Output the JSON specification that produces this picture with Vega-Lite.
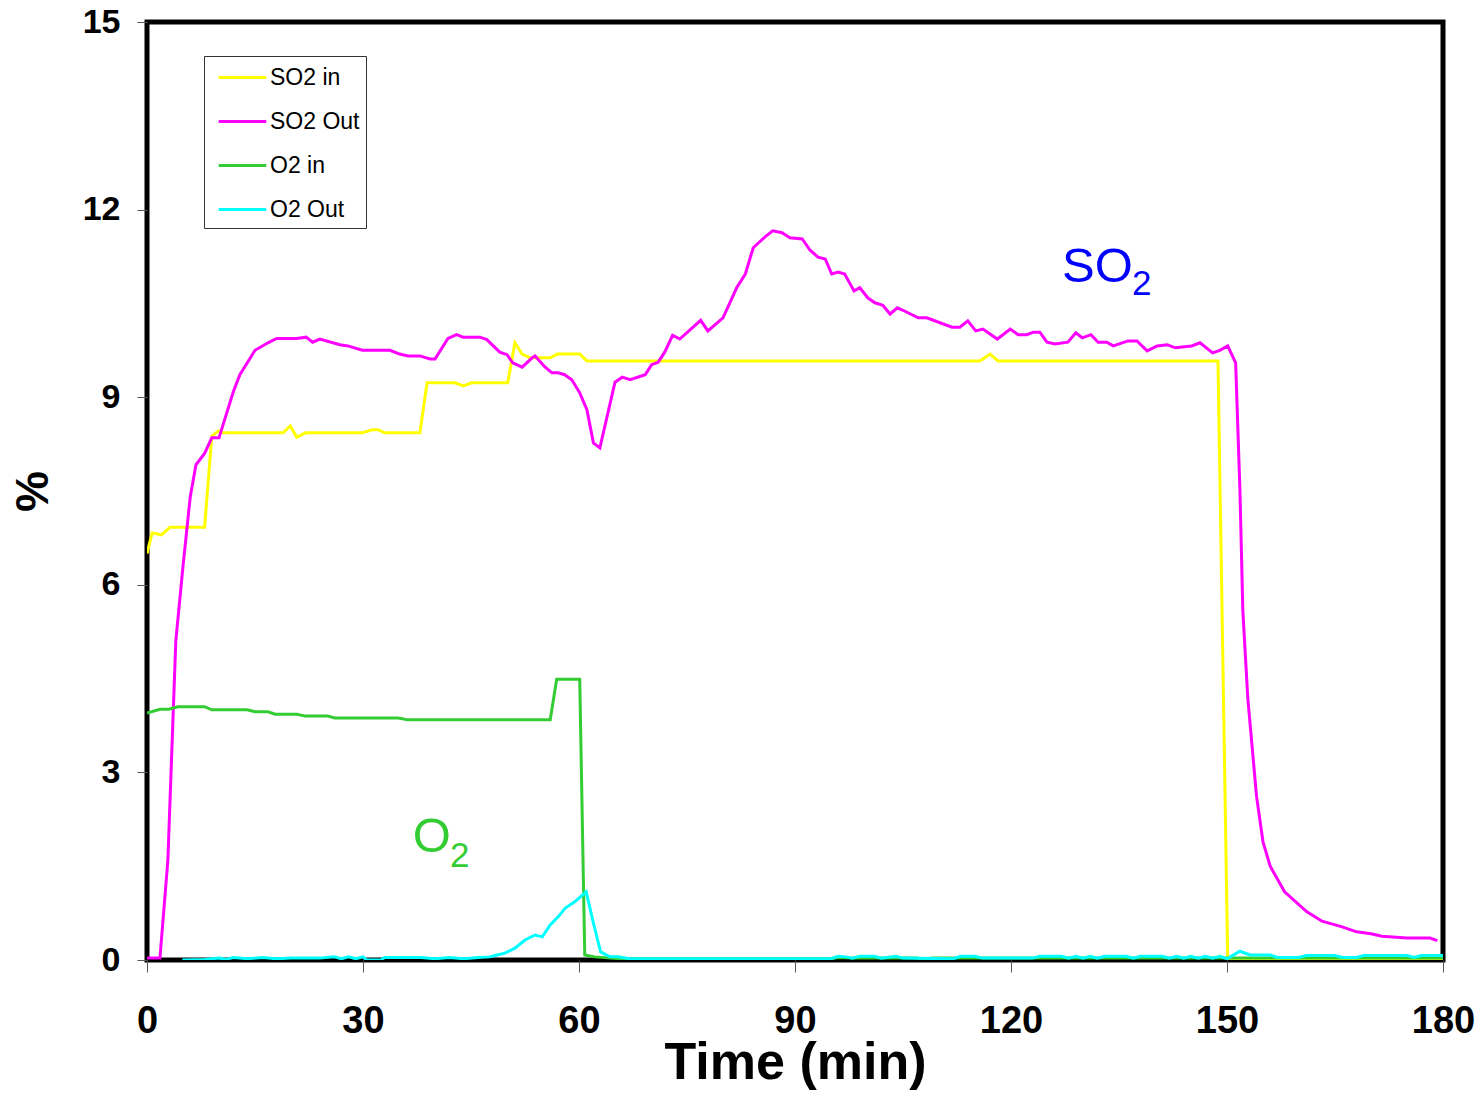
{
  "$schema": "https://vega.github.io/schema/vega-lite/v6.json",
  "width": 1296,
  "height": 938,
  "autosize": {"type": "none"},
  "padding": {"left": 147, "top": 22, "right": 37, "bottom": 137},
  "background": "white",
  "config": {
    "view": {"stroke": "black", "strokeWidth": 5},
    "font": "Liberation Sans"
  },
  "datasets": {
    "lines": [
      {"t": 0, "v": 6.5, "s": "SO2 in"}, {"t": 0.7, "v": 6.83, "s": "SO2 in"}, {"t": 2, "v": 6.8, "s": "SO2 in"}, {"t": 3.2, "v": 6.92, "s": "SO2 in"}, {"t": 8, "v": 6.92, "s": "SO2 in"},
      {"t": 9, "v": 8.38, "s": "SO2 in"}, {"t": 9.9, "v": 8.46, "s": "SO2 in"}, {"t": 10.5, "v": 8.43, "s": "SO2 in"}, {"t": 18.9, "v": 8.43, "s": "SO2 in"}, {"t": 19.9, "v": 8.54, "s": "SO2 in"},
      {"t": 20.8, "v": 8.36, "s": "SO2 in"}, {"t": 22, "v": 8.43, "s": "SO2 in"}, {"t": 29.9, "v": 8.43, "s": "SO2 in"}, {"t": 31.3, "v": 8.48, "s": "SO2 in"}, {"t": 32.1, "v": 8.48, "s": "SO2 in"},
      {"t": 33, "v": 8.43, "s": "SO2 in"}, {"t": 37.9, "v": 8.43, "s": "SO2 in"}, {"t": 38.9, "v": 9.23, "s": "SO2 in"}, {"t": 42.8, "v": 9.23, "s": "SO2 in"}, {"t": 43.9, "v": 9.18, "s": "SO2 in"},
      {"t": 45.1, "v": 9.23, "s": "SO2 in"}, {"t": 50.1, "v": 9.23, "s": "SO2 in"}, {"t": 51.1, "v": 9.87, "s": "SO2 in"}, {"t": 52.1, "v": 9.69, "s": "SO2 in"}, {"t": 53.2, "v": 9.63, "s": "SO2 in"},
      {"t": 56, "v": 9.63, "s": "SO2 in"}, {"t": 57, "v": 9.69, "s": "SO2 in"}, {"t": 60.1, "v": 9.69, "s": "SO2 in"}, {"t": 61.1, "v": 9.58, "s": "SO2 in"}, {"t": 115.7, "v": 9.58, "s": "SO2 in"},
      {"t": 117.1, "v": 9.69, "s": "SO2 in"}, {"t": 118.2, "v": 9.58, "s": "SO2 in"}, {"t": 148.75, "v": 9.58, "s": "SO2 in"}, {"t": 150.1, "v": 0, "s": "SO2 in"}, {"t": 180, "v": 0, "s": "SO2 in"},

      {"t": 0, "v": 0.03, "s": "SO2 Out"}, {"t": 1.8, "v": 0.03, "s": "SO2 Out"}, {"t": 2.9, "v": 1.6, "s": "SO2 Out"}, {"t": 4, "v": 5.1, "s": "SO2 Out"}, {"t": 5, "v": 6.3, "s": "SO2 Out"},
      {"t": 6, "v": 7.4, "s": "SO2 Out"}, {"t": 6.8, "v": 7.92, "s": "SO2 Out"}, {"t": 8, "v": 8.1, "s": "SO2 Out"}, {"t": 9, "v": 8.35, "s": "SO2 Out"}, {"t": 10, "v": 8.35, "s": "SO2 Out"},
      {"t": 12, "v": 9.09, "s": "SO2 Out"}, {"t": 12.9, "v": 9.36, "s": "SO2 Out"}, {"t": 15, "v": 9.75, "s": "SO2 Out"}, {"t": 16.8, "v": 9.87, "s": "SO2 Out"}, {"t": 18, "v": 9.94, "s": "SO2 Out"},
      {"t": 20.8, "v": 9.94, "s": "SO2 Out"}, {"t": 22.1, "v": 9.96, "s": "SO2 Out"}, {"t": 23, "v": 9.88, "s": "SO2 Out"}, {"t": 24, "v": 9.93, "s": "SO2 Out"}, {"t": 26.8, "v": 9.84, "s": "SO2 Out"},
      {"t": 27.9, "v": 9.82, "s": "SO2 Out"}, {"t": 29.9, "v": 9.75, "s": "SO2 Out"}, {"t": 33.75, "v": 9.75, "s": "SO2 Out"}, {"t": 35.1, "v": 9.69, "s": "SO2 Out"}, {"t": 36.25, "v": 9.66, "s": "SO2 Out"},
      {"t": 37.9, "v": 9.66, "s": "SO2 Out"}, {"t": 39.3, "v": 9.61, "s": "SO2 Out"}, {"t": 40, "v": 9.61, "s": "SO2 Out"}, {"t": 41.8, "v": 9.94, "s": "SO2 Out"}, {"t": 43, "v": 10.0, "s": "SO2 Out"},
      {"t": 43.9, "v": 9.96, "s": "SO2 Out"}, {"t": 46.25, "v": 9.96, "s": "SO2 Out"}, {"t": 47.2, "v": 9.92, "s": "SO2 Out"}, {"t": 49, "v": 9.72, "s": "SO2 Out"}, {"t": 50, "v": 9.68, "s": "SO2 Out"},
      {"t": 50.8, "v": 9.55, "s": "SO2 Out"}, {"t": 52.1, "v": 9.48, "s": "SO2 Out"}, {"t": 53.5, "v": 9.63, "s": "SO2 Out"}, {"t": 53.9, "v": 9.66, "s": "SO2 Out"}, {"t": 55.3, "v": 9.48, "s": "SO2 Out"},
      {"t": 56.25, "v": 9.39, "s": "SO2 Out"}, {"t": 57.1, "v": 9.39, "s": "SO2 Out"}, {"t": 58, "v": 9.36, "s": "SO2 Out"}, {"t": 59, "v": 9.28, "s": "SO2 Out"}, {"t": 60.1, "v": 9.07, "s": "SO2 Out"},
      {"t": 61.1, "v": 8.8, "s": "SO2 Out"}, {"t": 62, "v": 8.27, "s": "SO2 Out"}, {"t": 62.9, "v": 8.19, "s": "SO2 Out"}, {"t": 65, "v": 9.24, "s": "SO2 Out"}, {"t": 66, "v": 9.32, "s": "SO2 Out"},
      {"t": 67.1, "v": 9.28, "s": "SO2 Out"}, {"t": 69.2, "v": 9.36, "s": "SO2 Out"}, {"t": 70.1, "v": 9.52, "s": "SO2 Out"}, {"t": 71, "v": 9.56, "s": "SO2 Out"}, {"t": 71.9, "v": 9.72, "s": "SO2 Out"},
      {"t": 73, "v": 9.99, "s": "SO2 Out"}, {"t": 74, "v": 9.93, "s": "SO2 Out"}, {"t": 76.9, "v": 10.23, "s": "SO2 Out"}, {"t": 77.9, "v": 10.06, "s": "SO2 Out"}, {"t": 80, "v": 10.27, "s": "SO2 Out"},
      {"t": 81.9, "v": 10.75, "s": "SO2 Out"}, {"t": 83.1, "v": 10.97, "s": "SO2 Out"}, {"t": 84.2, "v": 11.39, "s": "SO2 Out"}, {"t": 85.8, "v": 11.56, "s": "SO2 Out"}, {"t": 86.9, "v": 11.66, "s": "SO2 Out"},
      {"t": 88.2, "v": 11.63, "s": "SO2 Out"}, {"t": 89.3, "v": 11.55, "s": "SO2 Out"}, {"t": 91, "v": 11.53, "s": "SO2 Out"}, {"t": 92.1, "v": 11.35, "s": "SO2 Out"}, {"t": 93.2, "v": 11.24, "s": "SO2 Out"},
      {"t": 94.2, "v": 11.21, "s": "SO2 Out"}, {"t": 95.1, "v": 10.97, "s": "SO2 Out"}, {"t": 96, "v": 11.0, "s": "SO2 Out"}, {"t": 96.9, "v": 10.97, "s": "SO2 Out"}, {"t": 98.2, "v": 10.7, "s": "SO2 Out"},
      {"t": 99, "v": 10.75, "s": "SO2 Out"}, {"t": 100.1, "v": 10.59, "s": "SO2 Out"}, {"t": 101.1, "v": 10.51, "s": "SO2 Out"}, {"t": 102.2, "v": 10.47, "s": "SO2 Out"}, {"t": 103.2, "v": 10.33, "s": "SO2 Out"},
      {"t": 104.2, "v": 10.43, "s": "SO2 Out"}, {"t": 105, "v": 10.39, "s": "SO2 Out"}, {"t": 107.1, "v": 10.27, "s": "SO2 Out"}, {"t": 108.3, "v": 10.27, "s": "SO2 Out"}, {"t": 111.8, "v": 10.12, "s": "SO2 Out"},
      {"t": 112.9, "v": 10.12, "s": "SO2 Out"}, {"t": 114, "v": 10.22, "s": "SO2 Out"}, {"t": 115.1, "v": 10.06, "s": "SO2 Out"}, {"t": 116.1, "v": 10.09, "s": "SO2 Out"}, {"t": 118.1, "v": 9.93, "s": "SO2 Out"},
      {"t": 119.9, "v": 10.09, "s": "SO2 Out"}, {"t": 121, "v": 10.0, "s": "SO2 Out"}, {"t": 122.2, "v": 10.0, "s": "SO2 Out"}, {"t": 123.1, "v": 10.04, "s": "SO2 Out"}, {"t": 124, "v": 10.04, "s": "SO2 Out"},
      {"t": 125, "v": 9.88, "s": "SO2 Out"}, {"t": 126.1, "v": 9.85, "s": "SO2 Out"}, {"t": 127.9, "v": 9.88, "s": "SO2 Out"}, {"t": 129, "v": 10.03, "s": "SO2 Out"}, {"t": 129.9, "v": 9.95, "s": "SO2 Out"},
      {"t": 131.1, "v": 10.0, "s": "SO2 Out"}, {"t": 132.1, "v": 9.88, "s": "SO2 Out"}, {"t": 133.3, "v": 9.88, "s": "SO2 Out"}, {"t": 134.2, "v": 9.82, "s": "SO2 Out"}, {"t": 136.25, "v": 9.9, "s": "SO2 Out"},
      {"t": 137.5, "v": 9.9, "s": "SO2 Out"}, {"t": 138.9, "v": 9.74, "s": "SO2 Out"}, {"t": 140.3, "v": 9.82, "s": "SO2 Out"}, {"t": 141.7, "v": 9.84, "s": "SO2 Out"}, {"t": 142.8, "v": 9.79, "s": "SO2 Out"},
      {"t": 145.1, "v": 9.82, "s": "SO2 Out"}, {"t": 146.25, "v": 9.87, "s": "SO2 Out"}, {"t": 148, "v": 9.71, "s": "SO2 Out"}, {"t": 149, "v": 9.75, "s": "SO2 Out"}, {"t": 150.1, "v": 9.82, "s": "SO2 Out"},
      {"t": 151.2, "v": 9.55, "s": "SO2 Out"}, {"t": 151.8, "v": 7.5, "s": "SO2 Out"}, {"t": 152.2, "v": 5.58, "s": "SO2 Out"}, {"t": 152.9, "v": 4.17, "s": "SO2 Out"}, {"t": 154.1, "v": 2.62, "s": "SO2 Out"},
      {"t": 155, "v": 1.89, "s": "SO2 Out"}, {"t": 156, "v": 1.5, "s": "SO2 Out"}, {"t": 158, "v": 1.09, "s": "SO2 Out"}, {"t": 161.1, "v": 0.77, "s": "SO2 Out"}, {"t": 163.2, "v": 0.62, "s": "SO2 Out"},
      {"t": 166, "v": 0.53, "s": "SO2 Out"}, {"t": 168, "v": 0.45, "s": "SO2 Out"}, {"t": 170, "v": 0.42, "s": "SO2 Out"}, {"t": 171.5, "v": 0.38, "s": "SO2 Out"}, {"t": 175, "v": 0.35, "s": "SO2 Out"},
      {"t": 178.2, "v": 0.35, "s": "SO2 Out"}, {"t": 179.2, "v": 0.31, "s": "SO2 Out"},

      {"t": 0, "v": 3.95, "s": "O2 in"}, {"t": 1.8, "v": 4.01, "s": "O2 in"}, {"t": 3, "v": 4.01, "s": "O2 in"}, {"t": 4.3, "v": 4.05, "s": "O2 in"}, {"t": 8, "v": 4.05, "s": "O2 in"},
      {"t": 9, "v": 4.0, "s": "O2 in"}, {"t": 13.9, "v": 4.0, "s": "O2 in"}, {"t": 15, "v": 3.97, "s": "O2 in"}, {"t": 16.8, "v": 3.97, "s": "O2 in"}, {"t": 17.8, "v": 3.93, "s": "O2 in"},
      {"t": 20.8, "v": 3.93, "s": "O2 in"}, {"t": 22, "v": 3.9, "s": "O2 in"}, {"t": 25.1, "v": 3.9, "s": "O2 in"}, {"t": 26.1, "v": 3.87, "s": "O2 in"}, {"t": 34.9, "v": 3.87, "s": "O2 in"},
      {"t": 36.25, "v": 3.84, "s": "O2 in"}, {"t": 56, "v": 3.84, "s": "O2 in"}, {"t": 56.9, "v": 4.49, "s": "O2 in"}, {"t": 60.1, "v": 4.49, "s": "O2 in"}, {"t": 60.8, "v": 0.08, "s": "O2 in"},
      {"t": 62.2, "v": 0.05, "s": "O2 in"}, {"t": 65.7, "v": 0.02, "s": "O2 in"}, {"t": 95, "v": 0.02, "s": "O2 in"}, {"t": 96, "v": 0.04, "s": "O2 in"}, {"t": 98, "v": 0.03, "s": "O2 in"},
      {"t": 107, "v": 0.03, "s": "O2 in"}, {"t": 108, "v": 0.0, "s": "O2 in"}, {"t": 109, "v": 0.03, "s": "O2 in"}, {"t": 180, "v": 0.03, "s": "O2 in"},

      {"t": 4.9, "v": 0.0, "s": "O2 Out"}, {"t": 8, "v": 0.01, "s": "O2 Out"}, {"t": 10, "v": 0.03, "s": "O2 Out"}, {"t": 11, "v": 0.01, "s": "O2 Out"}, {"t": 12, "v": 0.04, "s": "O2 Out"},
      {"t": 14, "v": 0.02, "s": "O2 Out"}, {"t": 16, "v": 0.04, "s": "O2 Out"}, {"t": 18, "v": 0.02, "s": "O2 Out"}, {"t": 20, "v": 0.03, "s": "O2 Out"}, {"t": 24, "v": 0.03, "s": "O2 Out"},
      {"t": 26, "v": 0.05, "s": "O2 Out"}, {"t": 27, "v": 0.02, "s": "O2 Out"}, {"t": 28, "v": 0.05, "s": "O2 Out"}, {"t": 29, "v": 0.02, "s": "O2 Out"}, {"t": 30, "v": 0.05, "s": "O2 Out"},
      {"t": 30.5, "v": 0, "s": "O2 Out"}, {"t": 32.5, "v": 0, "s": "O2 Out"}, {"t": 33, "v": 0.04, "s": "O2 Out"}, {"t": 38, "v": 0.04, "s": "O2 Out"}, {"t": 40, "v": 0.02, "s": "O2 Out"},
      {"t": 42, "v": 0.04, "s": "O2 Out"}, {"t": 44, "v": 0.02, "s": "O2 Out"}, {"t": 46, "v": 0.04, "s": "O2 Out"}, {"t": 47.6, "v": 0.05, "s": "O2 Out"}, {"t": 48.6, "v": 0.08, "s": "O2 Out"},
      {"t": 49.7, "v": 0.11, "s": "O2 Out"}, {"t": 51.1, "v": 0.19, "s": "O2 Out"}, {"t": 52.5, "v": 0.32, "s": "O2 Out"}, {"t": 53.9, "v": 0.4, "s": "O2 Out"}, {"t": 54.9, "v": 0.37, "s": "O2 Out"},
      {"t": 56, "v": 0.56, "s": "O2 Out"}, {"t": 57.1, "v": 0.69, "s": "O2 Out"}, {"t": 58.1, "v": 0.83, "s": "O2 Out"}, {"t": 59.4, "v": 0.93, "s": "O2 Out"}, {"t": 61, "v": 1.09, "s": "O2 Out"},
      {"t": 61.9, "v": 0.64, "s": "O2 Out"}, {"t": 63, "v": 0.13, "s": "O2 Out"}, {"t": 64.3, "v": 0.05, "s": "O2 Out"}, {"t": 65.5, "v": 0.05, "s": "O2 Out"}, {"t": 67, "v": 0.02, "s": "O2 Out"},
      {"t": 95, "v": 0.02, "s": "O2 Out"}, {"t": 96, "v": 0.06, "s": "O2 Out"}, {"t": 97, "v": 0.05, "s": "O2 Out"}, {"t": 98, "v": 0.03, "s": "O2 Out"}, {"t": 99, "v": 0.06, "s": "O2 Out"},
      {"t": 101, "v": 0.06, "s": "O2 Out"}, {"t": 102, "v": 0.03, "s": "O2 Out"}, {"t": 104, "v": 0.06, "s": "O2 Out"}, {"t": 105, "v": 0.03, "s": "O2 Out"}, {"t": 112, "v": 0.02, "s": "O2 Out"},
      {"t": 113, "v": 0.06, "s": "O2 Out"}, {"t": 115, "v": 0.06, "s": "O2 Out"}, {"t": 116, "v": 0.03, "s": "O2 Out"}, {"t": 123, "v": 0.03, "s": "O2 Out"}, {"t": 124, "v": 0.06, "s": "O2 Out"},
      {"t": 127, "v": 0.06, "s": "O2 Out"}, {"t": 128, "v": 0.03, "s": "O2 Out"}, {"t": 129, "v": 0.06, "s": "O2 Out"}, {"t": 130, "v": 0.03, "s": "O2 Out"}, {"t": 131, "v": 0.06, "s": "O2 Out"},
      {"t": 132, "v": 0.03, "s": "O2 Out"}, {"t": 133, "v": 0.06, "s": "O2 Out"}, {"t": 136, "v": 0.06, "s": "O2 Out"}, {"t": 137, "v": 0.03, "s": "O2 Out"}, {"t": 138, "v": 0.06, "s": "O2 Out"},
      {"t": 141, "v": 0.06, "s": "O2 Out"}, {"t": 142, "v": 0.03, "s": "O2 Out"}, {"t": 143, "v": 0.06, "s": "O2 Out"}, {"t": 144, "v": 0.03, "s": "O2 Out"}, {"t": 145, "v": 0.06, "s": "O2 Out"},
      {"t": 146, "v": 0.03, "s": "O2 Out"}, {"t": 147, "v": 0.06, "s": "O2 Out"}, {"t": 148, "v": 0.03, "s": "O2 Out"}, {"t": 149, "v": 0.06, "s": "O2 Out"}, {"t": 150, "v": 0.02, "s": "O2 Out"},
      {"t": 151.8, "v": 0.14, "s": "O2 Out"}, {"t": 153.2, "v": 0.08, "s": "O2 Out"}, {"t": 156, "v": 0.08, "s": "O2 Out"}, {"t": 157, "v": 0.04, "s": "O2 Out"}, {"t": 160, "v": 0.04, "s": "O2 Out"},
      {"t": 161, "v": 0.07, "s": "O2 Out"}, {"t": 165, "v": 0.07, "s": "O2 Out"}, {"t": 166, "v": 0.04, "s": "O2 Out"}, {"t": 168, "v": 0.04, "s": "O2 Out"}, {"t": 169, "v": 0.07, "s": "O2 Out"},
      {"t": 175, "v": 0.07, "s": "O2 Out"}, {"t": 176, "v": 0.04, "s": "O2 Out"}, {"t": 177, "v": 0.07, "s": "O2 Out"}, {"t": 180, "v": 0.07, "s": "O2 Out"}
    ],
    "labels": [
      {"t": 127.1, "v": 10.84, "label": "SO", "g": "SO2"},
      {"t": 136.8, "v": 10.64, "label": "2", "g": "SO2sub"},
      {"t": 36.9, "v": 1.73, "label": "O", "g": "O2"},
      {"t": 42.1, "v": 1.49, "label": "2", "g": "O2sub"}
    ]
  },
  "layer": [
    {
      "data": {"name": "lines"},
      "mark": {"type": "line", "strokeWidth": 3, "clip": true},
      "encoding": {
        "x": {
          "field": "t", "type": "quantitative",
          "scale": {"domain": [0, 180], "nice": false},
          "axis": {
            "values": [0, 30, 60, 90, 120, 150, 180], "format": "d",
            "domain": false, "grid": false, "labelFlush": false, "labelOverlap": false,
            "tickColor": "#555", "tickSize": 12, "tickWidth": 1,
            "labelFont": "Liberation Sans", "labelFontWeight": "bold", "labelFontSize": 38,
            "labelColor": "black", "labelPadding": 30,
            "title": "Time (min)", "titleFont": "Liberation Sans", "titleFontWeight": "bold",
            "titleFontSize": 52, "titleColor": "black", "titlePadding": -3
          }
        },
        "y": {
          "field": "v", "type": "quantitative",
          "scale": {"domain": [0, 15], "nice": false},
          "axis": {
            "values": [0, 3, 6, 9, 12, 15], "format": "d",
            "domain": false, "grid": false, "labelFlush": false, "labelOverlap": false,
            "tickColor": "#555", "tickSize": 10, "tickWidth": 1,
            "labelFont": "Liberation Sans", "labelFontWeight": "bold", "labelFontSize": 34,
            "labelColor": "black", "labelPadding": 17,
            "title": "%", "titleFont": "Liberation Sans", "titleFontWeight": "bold",
            "titleFontSize": 46, "titleColor": "black", "titlePadding": 25
          }
        },
        "color": {
          "field": "s", "type": "nominal",
          "scale": {"domain": ["SO2 in", "SO2 Out", "O2 in", "O2 Out"], "range": ["#ffff00", "#ff00ff", "#33cc33", "#00ffff"]},
          "legend": {
            "title": null, "orient": "none", "legendX": 57, "legendY": 34,
            "symbolType": "M-1.7,0H1.7", "symbolStrokeWidth": 3, "symbolSize": 784,
            "symbolOffset": 17,
            "labelFont": "Liberation Sans", "labelFontSize": 23, "labelColor": "black",
            "labelOffset": 12, "strokeColor": "#333", "fillColor": "white",
            "padding": 6, "rowPadding": 16
          }
        }
      }
    },
    {
      "data": {"name": "labels"},
      "transform": [{"filter": "datum.g == 'SO2'"}],
      "mark": {"type": "text", "color": "#0000ff", "font": "Liberation Sans", "fontSize": 49, "align": "left", "baseline": "alphabetic"},
      "encoding": {"x": {"field": "t", "type": "quantitative"}, "y": {"field": "v", "type": "quantitative"}, "text": {"field": "label"}}
    },
    {
      "data": {"name": "labels"},
      "transform": [{"filter": "datum.g == 'SO2sub'"}],
      "mark": {"type": "text", "color": "#0000ff", "font": "Liberation Sans", "fontSize": 35, "align": "left", "baseline": "alphabetic"},
      "encoding": {"x": {"field": "t", "type": "quantitative"}, "y": {"field": "v", "type": "quantitative"}, "text": {"field": "label"}}
    },
    {
      "data": {"name": "labels"},
      "transform": [{"filter": "datum.g == 'O2'"}],
      "mark": {"type": "text", "color": "#33cc33", "font": "Liberation Sans", "fontSize": 49, "align": "left", "baseline": "alphabetic"},
      "encoding": {"x": {"field": "t", "type": "quantitative"}, "y": {"field": "v", "type": "quantitative"}, "text": {"field": "label"}}
    },
    {
      "data": {"name": "labels"},
      "transform": [{"filter": "datum.g == 'O2sub'"}],
      "mark": {"type": "text", "color": "#33cc33", "font": "Liberation Sans", "fontSize": 35, "align": "left", "baseline": "alphabetic"},
      "encoding": {"x": {"field": "t", "type": "quantitative"}, "y": {"field": "v", "type": "quantitative"}, "text": {"field": "label"}}
    }
  ]
}
